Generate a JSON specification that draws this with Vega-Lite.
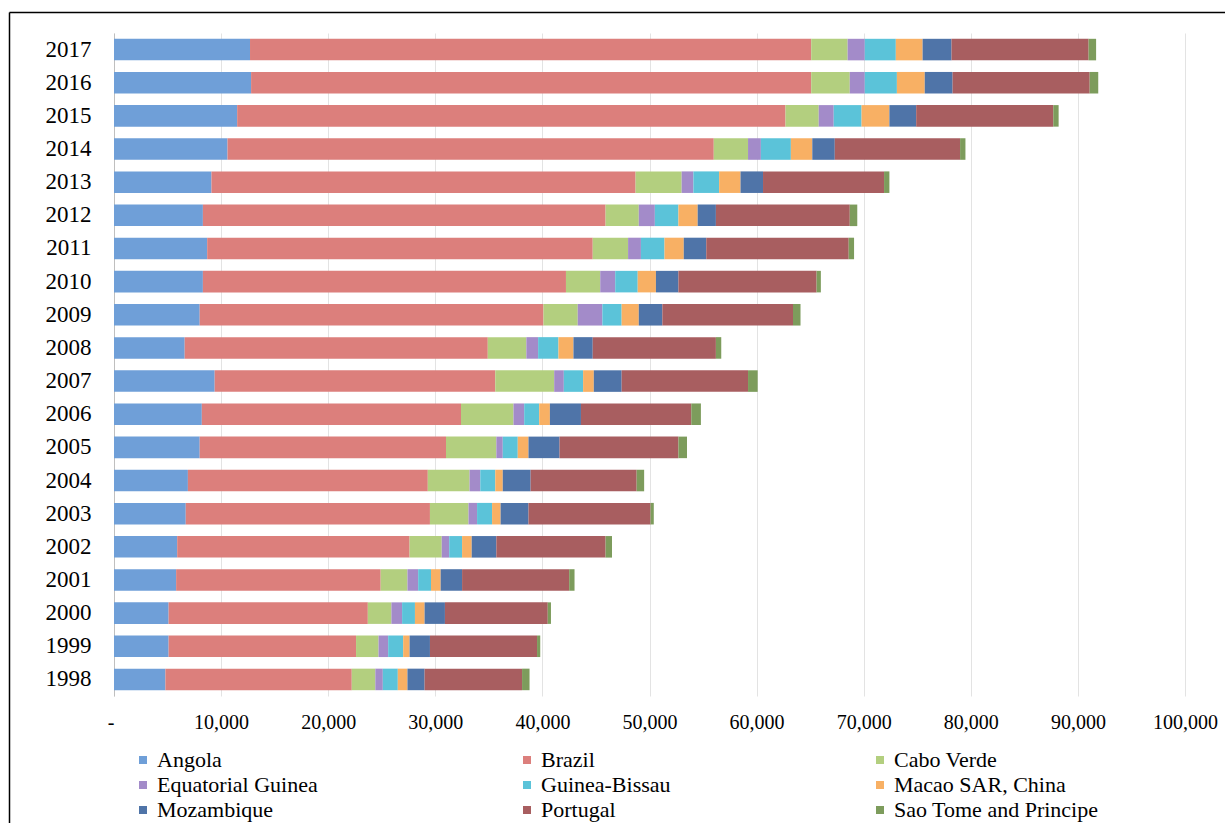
{
  "$schema": "https://vega.github.io/schema/vega-lite/v6.json",
  "width": 1216,
  "height": 663,
  "autosize": {"type": "none"},
  "padding": {"left": 9, "top": 33, "right": 0, "bottom": 127},
  "background": "white",
  "data": {
    "values": [
      {"year": "2017", "country": "Angola", "value": 12700},
      {"year": "2017", "country": "Brazil", "value": 52400},
      {"year": "2017", "country": "Cabo Verde", "value": 3400},
      {"year": "2017", "country": "Equatorial Guinea", "value": 1600},
      {"year": "2017", "country": "Guinea-Bissau", "value": 2900},
      {"year": "2017", "country": "Macao SAR, China", "value": 2500},
      {"year": "2017", "country": "Mozambique", "value": 2700},
      {"year": "2017", "country": "Portugal", "value": 12800},
      {"year": "2017", "country": "Sao Tome and Principe", "value": 700},
      {"year": "2016", "country": "Angola", "value": 12800},
      {"year": "2016", "country": "Brazil", "value": 52300},
      {"year": "2016", "country": "Cabo Verde", "value": 3600},
      {"year": "2016", "country": "Equatorial Guinea", "value": 1400},
      {"year": "2016", "country": "Guinea-Bissau", "value": 3000},
      {"year": "2016", "country": "Macao SAR, China", "value": 2600},
      {"year": "2016", "country": "Mozambique", "value": 2600},
      {"year": "2016", "country": "Portugal", "value": 12800},
      {"year": "2016", "country": "Sao Tome and Principe", "value": 800},
      {"year": "2015", "country": "Angola", "value": 11500},
      {"year": "2015", "country": "Brazil", "value": 51200},
      {"year": "2015", "country": "Cabo Verde", "value": 3100},
      {"year": "2015", "country": "Equatorial Guinea", "value": 1400},
      {"year": "2015", "country": "Guinea-Bissau", "value": 2600},
      {"year": "2015", "country": "Macao SAR, China", "value": 2600},
      {"year": "2015", "country": "Mozambique", "value": 2500},
      {"year": "2015", "country": "Portugal", "value": 12800},
      {"year": "2015", "country": "Sao Tome and Principe", "value": 500},
      {"year": "2014", "country": "Angola", "value": 10600},
      {"year": "2014", "country": "Brazil", "value": 45400},
      {"year": "2014", "country": "Cabo Verde", "value": 3200},
      {"year": "2014", "country": "Equatorial Guinea", "value": 1200},
      {"year": "2014", "country": "Guinea-Bissau", "value": 2800},
      {"year": "2014", "country": "Macao SAR, China", "value": 2000},
      {"year": "2014", "country": "Mozambique", "value": 2100},
      {"year": "2014", "country": "Portugal", "value": 11700},
      {"year": "2014", "country": "Sao Tome and Principe", "value": 500},
      {"year": "2013", "country": "Angola", "value": 9100},
      {"year": "2013", "country": "Brazil", "value": 39600},
      {"year": "2013", "country": "Cabo Verde", "value": 4300},
      {"year": "2013", "country": "Equatorial Guinea", "value": 1100},
      {"year": "2013", "country": "Guinea-Bissau", "value": 2400},
      {"year": "2013", "country": "Macao SAR, China", "value": 2000},
      {"year": "2013", "country": "Mozambique", "value": 2100},
      {"year": "2013", "country": "Portugal", "value": 11300},
      {"year": "2013", "country": "Sao Tome and Principe", "value": 500},
      {"year": "2012", "country": "Angola", "value": 8300},
      {"year": "2012", "country": "Brazil", "value": 37600},
      {"year": "2012", "country": "Cabo Verde", "value": 3100},
      {"year": "2012", "country": "Equatorial Guinea", "value": 1500},
      {"year": "2012", "country": "Guinea-Bissau", "value": 2200},
      {"year": "2012", "country": "Macao SAR, China", "value": 1800},
      {"year": "2012", "country": "Mozambique", "value": 1700},
      {"year": "2012", "country": "Portugal", "value": 12500},
      {"year": "2012", "country": "Sao Tome and Principe", "value": 700},
      {"year": "2011", "country": "Angola", "value": 8700},
      {"year": "2011", "country": "Brazil", "value": 36000},
      {"year": "2011", "country": "Cabo Verde", "value": 3300},
      {"year": "2011", "country": "Equatorial Guinea", "value": 1200},
      {"year": "2011", "country": "Guinea-Bissau", "value": 2200},
      {"year": "2011", "country": "Macao SAR, China", "value": 1800},
      {"year": "2011", "country": "Mozambique", "value": 2100},
      {"year": "2011", "country": "Portugal", "value": 13300},
      {"year": "2011", "country": "Sao Tome and Principe", "value": 500},
      {"year": "2010", "country": "Angola", "value": 8300},
      {"year": "2010", "country": "Brazil", "value": 33900},
      {"year": "2010", "country": "Cabo Verde", "value": 3200},
      {"year": "2010", "country": "Equatorial Guinea", "value": 1400},
      {"year": "2010", "country": "Guinea-Bissau", "value": 2100},
      {"year": "2010", "country": "Macao SAR, China", "value": 1700},
      {"year": "2010", "country": "Mozambique", "value": 2100},
      {"year": "2010", "country": "Portugal", "value": 12900},
      {"year": "2010", "country": "Sao Tome and Principe", "value": 400},
      {"year": "2009", "country": "Angola", "value": 8000},
      {"year": "2009", "country": "Brazil", "value": 32100},
      {"year": "2009", "country": "Cabo Verde", "value": 3200},
      {"year": "2009", "country": "Equatorial Guinea", "value": 2300},
      {"year": "2009", "country": "Guinea-Bissau", "value": 1800},
      {"year": "2009", "country": "Macao SAR, China", "value": 1600},
      {"year": "2009", "country": "Mozambique", "value": 2200},
      {"year": "2009", "country": "Portugal", "value": 12200},
      {"year": "2009", "country": "Sao Tome and Principe", "value": 700},
      {"year": "2008", "country": "Angola", "value": 6600},
      {"year": "2008", "country": "Brazil", "value": 28300},
      {"year": "2008", "country": "Cabo Verde", "value": 3600},
      {"year": "2008", "country": "Equatorial Guinea", "value": 1100},
      {"year": "2008", "country": "Guinea-Bissau", "value": 1900},
      {"year": "2008", "country": "Macao SAR, China", "value": 1400},
      {"year": "2008", "country": "Mozambique", "value": 1800},
      {"year": "2008", "country": "Portugal", "value": 11500},
      {"year": "2008", "country": "Sao Tome and Principe", "value": 500},
      {"year": "2007", "country": "Angola", "value": 9400},
      {"year": "2007", "country": "Brazil", "value": 26200},
      {"year": "2007", "country": "Cabo Verde", "value": 5500},
      {"year": "2007", "country": "Equatorial Guinea", "value": 900},
      {"year": "2007", "country": "Guinea-Bissau", "value": 1800},
      {"year": "2007", "country": "Macao SAR, China", "value": 1000},
      {"year": "2007", "country": "Mozambique", "value": 2600},
      {"year": "2007", "country": "Portugal", "value": 11800},
      {"year": "2007", "country": "Sao Tome and Principe", "value": 900},
      {"year": "2006", "country": "Angola", "value": 8200},
      {"year": "2006", "country": "Brazil", "value": 24200},
      {"year": "2006", "country": "Cabo Verde", "value": 4900},
      {"year": "2006", "country": "Equatorial Guinea", "value": 1000},
      {"year": "2006", "country": "Guinea-Bissau", "value": 1400},
      {"year": "2006", "country": "Macao SAR, China", "value": 1000},
      {"year": "2006", "country": "Mozambique", "value": 2900},
      {"year": "2006", "country": "Portugal", "value": 10300},
      {"year": "2006", "country": "Sao Tome and Principe", "value": 900},
      {"year": "2005", "country": "Angola", "value": 8000},
      {"year": "2005", "country": "Brazil", "value": 23000},
      {"year": "2005", "country": "Cabo Verde", "value": 4700},
      {"year": "2005", "country": "Equatorial Guinea", "value": 600},
      {"year": "2005", "country": "Guinea-Bissau", "value": 1400},
      {"year": "2005", "country": "Macao SAR, China", "value": 1000},
      {"year": "2005", "country": "Mozambique", "value": 2900},
      {"year": "2005", "country": "Portugal", "value": 11100},
      {"year": "2005", "country": "Sao Tome and Principe", "value": 800},
      {"year": "2004", "country": "Angola", "value": 6900},
      {"year": "2004", "country": "Brazil", "value": 22400},
      {"year": "2004", "country": "Cabo Verde", "value": 3900},
      {"year": "2004", "country": "Equatorial Guinea", "value": 1000},
      {"year": "2004", "country": "Guinea-Bissau", "value": 1400},
      {"year": "2004", "country": "Macao SAR, China", "value": 700},
      {"year": "2004", "country": "Mozambique", "value": 2600},
      {"year": "2004", "country": "Portugal", "value": 9900},
      {"year": "2004", "country": "Sao Tome and Principe", "value": 700},
      {"year": "2003", "country": "Angola", "value": 6700},
      {"year": "2003", "country": "Brazil", "value": 22800},
      {"year": "2003", "country": "Cabo Verde", "value": 3600},
      {"year": "2003", "country": "Equatorial Guinea", "value": 800},
      {"year": "2003", "country": "Guinea-Bissau", "value": 1400},
      {"year": "2003", "country": "Macao SAR, China", "value": 800},
      {"year": "2003", "country": "Mozambique", "value": 2600},
      {"year": "2003", "country": "Portugal", "value": 11400},
      {"year": "2003", "country": "Sao Tome and Principe", "value": 300},
      {"year": "2002", "country": "Angola", "value": 5900},
      {"year": "2002", "country": "Brazil", "value": 21700},
      {"year": "2002", "country": "Cabo Verde", "value": 3000},
      {"year": "2002", "country": "Equatorial Guinea", "value": 700},
      {"year": "2002", "country": "Guinea-Bissau", "value": 1200},
      {"year": "2002", "country": "Macao SAR, China", "value": 900},
      {"year": "2002", "country": "Mozambique", "value": 2300},
      {"year": "2002", "country": "Portugal", "value": 10200},
      {"year": "2002", "country": "Sao Tome and Principe", "value": 600},
      {"year": "2001", "country": "Angola", "value": 5800},
      {"year": "2001", "country": "Brazil", "value": 19100},
      {"year": "2001", "country": "Cabo Verde", "value": 2500},
      {"year": "2001", "country": "Equatorial Guinea", "value": 1000},
      {"year": "2001", "country": "Guinea-Bissau", "value": 1200},
      {"year": "2001", "country": "Macao SAR, China", "value": 900},
      {"year": "2001", "country": "Mozambique", "value": 2000},
      {"year": "2001", "country": "Portugal", "value": 10000},
      {"year": "2001", "country": "Sao Tome and Principe", "value": 500},
      {"year": "2000", "country": "Angola", "value": 5100},
      {"year": "2000", "country": "Brazil", "value": 18600},
      {"year": "2000", "country": "Cabo Verde", "value": 2200},
      {"year": "2000", "country": "Equatorial Guinea", "value": 1000},
      {"year": "2000", "country": "Guinea-Bissau", "value": 1200},
      {"year": "2000", "country": "Macao SAR, China", "value": 900},
      {"year": "2000", "country": "Mozambique", "value": 1900},
      {"year": "2000", "country": "Portugal", "value": 9600},
      {"year": "2000", "country": "Sao Tome and Principe", "value": 300},
      {"year": "1999", "country": "Angola", "value": 5100},
      {"year": "1999", "country": "Brazil", "value": 17500},
      {"year": "1999", "country": "Cabo Verde", "value": 2100},
      {"year": "1999", "country": "Equatorial Guinea", "value": 900},
      {"year": "1999", "country": "Guinea-Bissau", "value": 1400},
      {"year": "1999", "country": "Macao SAR, China", "value": 600},
      {"year": "1999", "country": "Mozambique", "value": 1900},
      {"year": "1999", "country": "Portugal", "value": 10000},
      {"year": "1999", "country": "Sao Tome and Principe", "value": 300},
      {"year": "1998", "country": "Angola", "value": 4800},
      {"year": "1998", "country": "Brazil", "value": 17400},
      {"year": "1998", "country": "Cabo Verde", "value": 2200},
      {"year": "1998", "country": "Equatorial Guinea", "value": 700},
      {"year": "1998", "country": "Guinea-Bissau", "value": 1400},
      {"year": "1998", "country": "Macao SAR, China", "value": 900},
      {"year": "1998", "country": "Mozambique", "value": 1600},
      {"year": "1998", "country": "Portugal", "value": 9100},
      {"year": "1998", "country": "Sao Tome and Principe", "value": 700}
    ]
  },
  "layer": [
    {
      "mark": {"type": "bar"},
      "encoding": {
        "y": {
          "field": "year",
          "type": "nominal",
          "sort": "descending",
          "title": null,
          "scale": {"paddingInner": 0.35, "paddingOuter": 0.175},
          "axis": {
            "orient": "left",
            "offset": -105,
            "ticks": false,
            "domainColor": "#bfbfbf",
            "labelFont": "Liberation Serif",
            "labelFontSize": 23,
            "labelColor": "#000000",
            "labelPadding": 23
          }
        },
        "x": {
          "field": "value",
          "type": "quantitative",
          "stack": "zero",
          "title": null,
          "scale": {"domain": [0, 100000], "range": [105, 1176], "nice": false},
          "axis": {
            "orient": "bottom",
            "values": [0, 10000, 20000, 30000, 40000, 50000, 60000, 70000, 80000, 90000, 100000],
            "labelExpr": "datum.value === 0 ? '-' : datum.label",
            "labelAlign": {"condition": {"test": "datum.value === 0", "value": "right"}, "value": "center"},
            "domain": false,
            "ticks": false,
            "grid": true,
            "gridColor": "#e3e3e3",
            "labelFont": "Liberation Serif",
            "labelFontSize": 20,
            "labelColor": "#000000",
            "labelPadding": 16,
            "labelBaseline": "top"
          }
        },
        "color": {
          "field": "country",
          "type": "nominal",
          "scale": {
            "domain": ["Angola", "Brazil", "Cabo Verde", "Equatorial Guinea", "Guinea-Bissau", "Macao SAR, China", "Mozambique", "Portugal", "Sao Tome and Principe"],
            "range": ["#6f9fd8", "#dc7f7c", "#b3cf7f", "#a38bc9", "#5bc3d9", "#f8b064", "#4f74a8", "#a85e60", "#7d9c5c"]
          },
          "legend": {
            "title": null,
            "orient": "none",
            "legendX": 123,
            "legendY": 716,
            "direction": "horizontal",
            "columns": 3,
            "columnPadding": 198,
            "rowPadding": 3,
            "symbolType": "square",
            "symbolSize": 64,
            "symbolStrokeWidth": 0,
            "labelFont": "Liberation Serif",
            "labelFontSize": 22,
            "labelColor": "#000000",
            "labelOffset": 3,
            "labelLimit": 400
          }
        },
        "order": {"field": "country", "sort": "ascending"}
      }
    },
    {
      "mark": {"type": "point", "opacity": 0},
      "encoding": {
        "x": {
          "field": "value",
          "type": "quantitative",
          "title": null,
          "scale": {"range": [0, 1216]},
          "axis": {"orient": "top", "offset": 21, "labels": false, "ticks": false, "grid": false, "domainColor": "#000000", "domainWidth": 1.5}
        },
        "y": {
          "field": "value",
          "type": "quantitative",
          "title": null,
          "scale": {"range": [-21, 800]},
          "axis": {"orient": "left", "labels": false, "ticks": false, "grid": false, "domainColor": "#000000", "domainWidth": 1.5}
        }
      }
    }
  ],
  "resolve": {"scale": {"x": "independent", "y": "independent"}},
  "config": {
    "view": {"stroke": null}
  }
}
